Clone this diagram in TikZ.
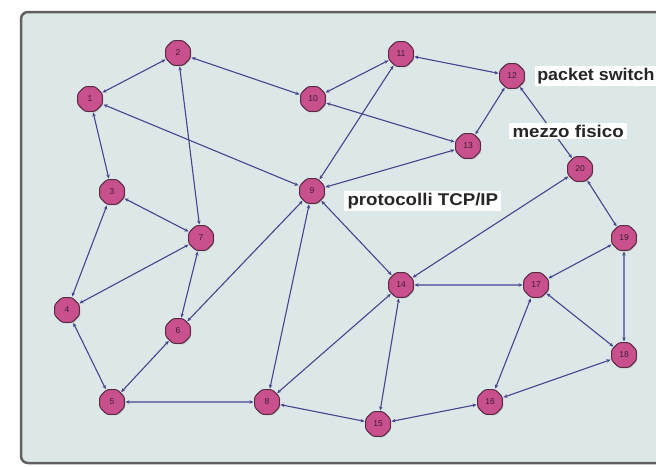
\documentclass[tikz,border=0pt]{standalone}
\usepackage{fontspec}
\setmainfont{Liberation Sans}
\usetikzlibrary{shapes.geometric,arrows.meta,shadows}
\definecolor{bgpanel}{HTML}{DCE8E8}
\definecolor{nodefill}{HTML}{C8508C}
\definecolor{nodeedge}{HTML}{5A2A45}
\definecolor{linkcol}{HTML}{45458E}
\tikzset{
  router/.style={regular polygon, regular polygon sides=8, minimum size=27pt, inner sep=0pt,
    rounded corners=2.5pt,
    fill=nodefill, draw=nodeedge, line width=1pt, text=nodeedge!70!black,
    font=\fontsize{8.5}{8.5}\selectfont, drop shadow={shadow xshift=1pt, shadow yshift=-1pt, opacity=0.35}},
  link/.style={draw=linkcol, line width=1.1pt, {Stealth[length=4pt,width=3.5pt]}-{Stealth[length=4pt,width=3.5pt]}, shorten <=0.5pt, shorten >=0.5pt},
  tag/.style={fill=white, inner xsep=3pt, inner ysep=2pt, xscale=1.1, font=\bfseries\fontsize{17}{17}\selectfont, text=black!85}
}
\begin{document}
\begin{tikzpicture}[x=1pt,y=-1pt]
\useasboundingbox (0,0) rectangle (656,466);
\fill[white] (0,0) rectangle (656,466);
\draw[gray!75!black, line width=2.5pt, fill=bgpanel, rounded corners=7pt] (21,12) rectangle (672,463);
% nodes
\node[router] (n1) at (90,99) {1};
\node[router] (n2) at (178,53) {2};
\node[router] (n3) at (112,192) {3};
\node[router] (n4) at (67,310) {4};
\node[router] (n5) at (112,402) {5};
\node[router] (n6) at (178,331) {6};
\node[router] (n7) at (201,238) {7};
\node[router] (n8) at (267,402) {8};
\node[router] (n9) at (312,191) {9};
\node[router] (n10) at (313,99) {10};
\node[router] (n11) at (401,54) {11};
\node[router] (n12) at (512,76) {12};
\node[router] (n13) at (468,146) {13};
\node[router] (n14) at (401,285) {14};
\node[router] (n15) at (378,424) {15};
\node[router] (n16) at (490,402) {16};
\node[router] (n17) at (536,285) {17};
\node[router] (n18) at (624,355) {18};
\node[router] (n19) at (624,238) {19};
\node[router] (n20) at (580,169) {20};
% links
\foreach \a/\b in {1/2,2/10,1/3,1/9,2/7,3/7,3/4,4/7,4/5,7/6,9/6,5/6,5/8,9/8,8/14,8/15,10/11,10/13,9/11,9/13,11/12,12/13,12/20,9/14,14/20,20/19,14/17,14/15,15/16,16/17,16/18,17/18,17/19,19/18}
  \draw[link] (n\a) -- (n\b);
% labels
\node[tag, anchor=west, xscale=0.955, inner xsep=2pt] (ps) at (535,76) {packet switch};
\node[tag, anchor=west] (mf) at (509,131) {mezzo fisico};
\node[tag, anchor=west] (tcp) at (344,201) {protocolli TCP/IP};
\end{tikzpicture}
\end{document}
